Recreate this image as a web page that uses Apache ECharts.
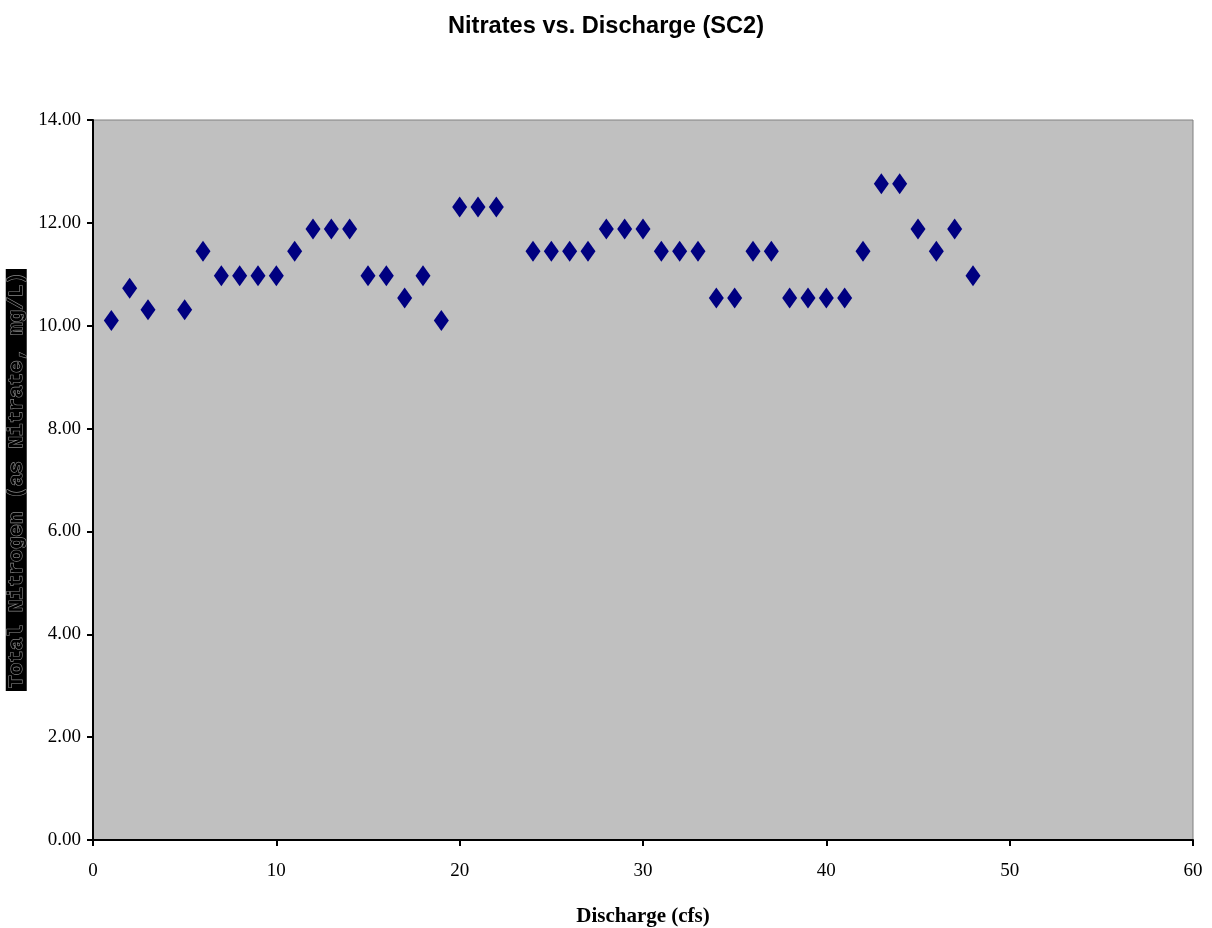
<!DOCTYPE html>
<html>
<head>
<meta charset="utf-8">
<script src="https://cdn.jsdelivr.net/npm/echarts@6/dist/echarts.min.js"></script>
<style>html,body{margin:0;padding:0;background:#fff}#c{width:1212px;height:928px}</style>
</head>
<body>
<div id="c"></div>
<script>
const discharge = [1,2,3,5,6,7,8,9,10,11,12,13,14,15,16,17,18,19,20,21,22,24,25,26,27,28,29,30,31,32,33,34,35,36,37,38,39,40,41,42,43,44,45,46,47,48];
const nitrate = [10.1,10.73,10.31,10.31,11.45,10.97,10.97,10.97,10.97,11.45,11.88,11.88,11.88,10.97,10.97,10.54,10.97,10.1,12.31,12.31,12.31,11.45,11.45,11.45,11.45,11.88,11.88,11.88,11.45,11.45,11.45,10.54,10.54,11.45,11.45,10.54,10.54,10.54,10.54,11.45,12.76,12.76,11.88,11.45,11.88,10.97];
const xTicks = {min:0, max:60, interval:10};
const yTicks = {min:0, max:14, interval:2};

const chart = echarts.init(document.getElementById('c'));
const serif = '"Liberation Serif", "DejaVu Serif", serif';
chart.setOption({
  animation:false,
  backgroundColor:'#fff',
  title:{text:'Nitrates vs. Discharge (SC2)', left:'center', top:9,
    textStyle:{fontFamily:'"Liberation Sans",Arial,sans-serif', fontWeight:'bold', fontSize:23.6, color:'#000'}},
  grid:{left:93, right:19, top:120, bottom:88, show:true, backgroundColor:'#C0C0C0', borderColor:'#808080', borderWidth:1, outerBoundsMode:'none', containLabel:false},
  xAxis:{type:'value', min:xTicks.min, max:xTicks.max, interval:xTicks.interval,
    name:'Discharge (cfs)', nameLocation:'middle', nameGap:66,
    nameTextStyle:{fontFamily:serif, fontWeight:'bold', fontSize:21, color:'#000'},
    axisLine:{show:true, lineStyle:{color:'#000', width:2}},
    axisTick:{show:true, length:6, lineStyle:{color:'#000', width:2}},
    axisLabel:{fontFamily:serif, fontSize:19, color:'#000', margin:22},
    splitLine:{show:false}},
  yAxis:{type:'value', min:yTicks.min, max:yTicks.max, interval:yTicks.interval,
    name:'Total Nitrogen (as Nitrate, mg/L)', nameLocation:'middle', nameGap:63, nameRotate:90,
    nameTextStyle:{fontFamily:'"Liberation Mono","DejaVu Sans Mono",monospace', fontWeight:'bold', fontSize:21,
      color:'#000', textBorderColor:'#8a8a8a', textBorderWidth:1.2, backgroundColor:'#000', padding:[0,3,0,3]},
    axisLine:{show:true, lineStyle:{color:'#000', width:2}},
    axisTick:{show:true, length:6, lineStyle:{color:'#000', width:2}},
    axisLabel:{fontFamily:serif, fontSize:19, color:'#000', margin:12, formatter:v=>v.toFixed(2)},
    splitLine:{show:false}},
  series:[{type:'scatter', symbol:'diamond', symbolSize:[15,21],
    itemStyle:{color:'#000080', opacity:1},
    data: discharge.map((d,i)=>[d, nitrate[i]])}]
});
</script>
</body>
</html>
